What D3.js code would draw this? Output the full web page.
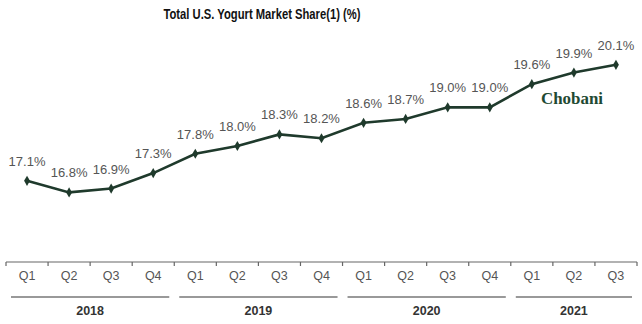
<!DOCTYPE html>
<html><head><meta charset="utf-8">
<script src="https://cdn.jsdelivr.net/npm/d3@7"></script>
<style>body{margin:0;background:#fff}</style>
</head><body>
<script>
const quarters = ["Q1","Q2","Q3","Q4","Q1","Q2","Q3","Q4","Q1","Q2","Q3","Q4","Q1","Q2","Q3"];
const years = ["2018","2019","2020","2021"];
const yearOf = [0,0,0,0,1,1,1,1,2,2,2,2,3,3,3];
const share = [17.1,16.8,16.9,17.3,17.8,18.0,18.3,18.2,18.6,18.7,19.0,19.0,19.6,19.9,20.1];
const title = "Total U.S. Yogurt Market Share(1) (%)";
const brand = "Chobani";

const W=642,H=324;
const svg=d3.select("body").append("svg").attr("width",W).attr("height",H);
const ids=d3.range(share.length);
const x=d3.scaleBand().domain(ids).range([6,637]).padding(0);
const y=d3.scaleLinear().domain([15,21]).range([262,30]);
const font="'Liberation Sans', Arial, sans-serif";

svg.append("text").attr("x",262).attr("y",19).attr("text-anchor","middle")
  .attr("font-family",font).attr("font-weight","bold").attr("font-size",14)
  .attr("textLength",197).attr("lengthAdjust","spacingAndGlyphs")
  .attr("fill","#111").text(title);

// axis
const ax=svg.append("g").attr("transform","translate(0,262)");
ax.append("line").attr("x1",6).attr("x2",637).attr("stroke","#666").attr("stroke-width",1.2);
const tickX=ids.map(i=>x(i)).concat([x(ids[ids.length-1])+x.bandwidth()]);
ax.selectAll("line.t").data(tickX).join("line").attr("class","t")
  .attr("x1",d=>d).attr("x2",d=>d).attr("y1",0).attr("y2",4).attr("stroke","#666").attr("stroke-width",1.2);
ax.selectAll("text").data(ids).join("text")
  .attr("x",i=>x(i)+x.bandwidth()/2).attr("y",17.5).attr("text-anchor","middle")
  .attr("font-family",font).attr("font-size",12.5).attr("fill","#555").text(i=>quarters[i]);

// year groups
years.forEach((yr,k)=>{
  const idx=ids.filter(i=>yearOf[i]===k);
  const x0=x(idx[0])+5, x1=x(idx[idx.length-1])+x.bandwidth()-5;
  svg.append("line").attr("x1",x0).attr("x2",x1).attr("y1",297).attr("y2",297)
    .attr("stroke","#777").attr("stroke-width",1.3);
  svg.append("text").attr("x",(x0+x1)/2).attr("y",314.5).attr("text-anchor","middle")
    .attr("font-family",font).attr("font-weight","bold").attr("font-size",12.5).attr("fill","#333").text(yr);
});

// line
const cx=i=>x(i)+x.bandwidth()/2;
svg.append("path").datum(ids)
  .attr("d",d3.line().x(cx).y(i=>y(share[i])))
  .attr("fill","none").attr("stroke","#1f3a2c").attr("stroke-width",2.6);
svg.selectAll("path.m").data(ids).join("path").attr("class","m")
  .attr("transform",i=>`translate(${cx(i)},${y(share[i])})`)
  .attr("d",d3.symbol().type(d3.symbolDiamond).size(30)).attr("fill","#1f3a2c");
svg.selectAll("text.v").data(ids).join("text").attr("class","v")
  .attr("x",cx).attr("y",i=>y(share[i])-15).attr("text-anchor","middle")
  .attr("font-family",font).attr("font-size",13).attr("fill","#555")
  .text(i=>share[i].toFixed(1)+"%");

svg.append("text").attr("x",541).attr("y",104).attr("font-family","'Liberation Serif', 'DejaVu Serif', serif")
  .attr("font-weight","bold").attr("font-size",17).attr("fill","#1f4a33")
  .attr("textLength",62).attr("lengthAdjust","spacingAndGlyphs").text(brand);
</script>
</body></html>
